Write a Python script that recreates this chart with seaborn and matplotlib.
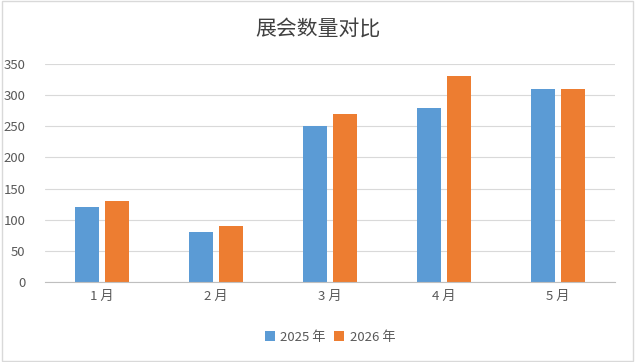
import pandas as pd
import seaborn as sns
import matplotlib.pyplot as plt
from matplotlib.patches import Rectangle

MONTHS = ["1 月", "2 月", "3 月", "4 月", "5 月"]
SERIES = ["2025 年", "2026 年"]
VALUES_2025 = [120, 80, 250, 280, 310]
VALUES_2026 = [130, 90, 270, 330, 310]
COLORS = ["#5B9BD5", "#ED7D31"]

df = pd.DataFrame({
    "month": MONTHS * 2,
    "year": [SERIES[0]] * len(MONTHS) + [SERIES[1]] * len(MONTHS),
    "count": VALUES_2025 + VALUES_2026,
})

sns.set_theme(style="white")
plt.rcParams['font.family'] = ['Noto Sans CJK SC', 'DejaVu Sans']

fig = plt.figure(figsize=(6.35, 3.62), dpi=100)
ax = fig.add_axes([45 / 635, 80 / 362, 570 / 635, 218 / 362])

sns.barplot(data=df, x="month", y="count", hue="year", palette=COLORS,
            width=0.53, gap=0.2, ax=ax, saturation=1, legend=True,
            linewidth=0, edgecolor="none")

ax.set_ylim(0, 350)
ax.set_yticks(range(0, 351, 50))
ax.set_xlim(-0.5, 4.5)
ax.yaxis.grid(True, color="#D9D9D9", linewidth=0.8)
ax.set_axisbelow(True)
for s in ["top", "right", "left"]:
    ax.spines[s].set_visible(False)
ax.spines["bottom"].set_color("#BFBFBF")
ax.spines["bottom"].set_linewidth(0.8)
ax.tick_params(axis="both", colors="#595959", labelsize=9.5, length=0)
ax.tick_params(axis="y", pad=14)
ax.tick_params(axis="x", pad=6)
ax.set_xlabel("")
ax.set_ylabel("")

ax.legend(loc="upper center", bbox_to_anchor=(0.5, -0.17), ncol=2, frameon=False,
          fontsize=9.5, handlelength=0.8, handleheight=0.8, handletextpad=0.4,
          columnspacing=0.6, labelcolor="#595959")

fig.suptitle("展会数量对比", y=0.95, fontsize=15, color="#404040", fontweight="medium")

fig.patches.append(Rectangle((0.003, 0.004), 0.994, 0.992, transform=fig.transFigure,
                             fill=False, edgecolor="#D9D9D9", linewidth=1))

fig.savefig("out.png", dpi=100)
